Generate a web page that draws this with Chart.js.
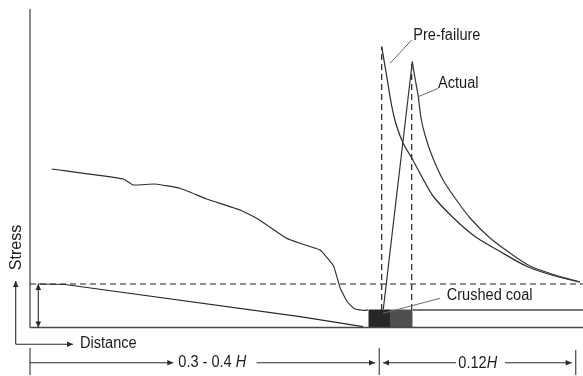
<!DOCTYPE html>
<html>
<head>
<meta charset="utf-8">
<style>
  html, body { margin: 0; padding: 0; background: #fff; }
  canvas { display: block; }
</style>
<script src="https://cdn.jsdelivr.net/npm/chart.js@4.4.1/dist/chart.umd.min.js"></script>
</head>
<body>
<canvas id="stressChart" width="583" height="376"></canvas>
<script>
// Drawing units: distance along x, stress along y, origin at the axes corner.
const xRange = [-30, 553];
const yRange = [-48.5, 327.5];

// Initial (virgin) stress level and rib / seam height.
const virginStress = 43.5;
const seamTop = 17.5;

// Stress carried over the goaf.
const goafX = [21.7, 93.3, 103.3, 125, 150, 176.7, 210, 226.7, 256.7, 270, 290, 303.5, 310, 317, 324, 333, 338];
const goafY = [158.5, 148.5, 142.5, 143.5, 139.2, 128.5, 117.5, 109.2, 89.2, 84.2, 77.5, 61.5, 40, 26, 19, 17.2, 17.5];

// Caving line from the far abutment down to the face.
const cavingX = [8, 35, 270, 333];
const cavingY = [43.5, 43, 10.8, 0.8];

// Pre-failure abutment stress.
const preFailureX = [351.7, 356.5, 361.7, 366, 373, 381.7, 392, 403, 423, 445, 470, 497, 525, 550];
const preFailureY = [280.8, 252.5, 221.5, 203.5, 184.5, 169.5, 150.5, 131.5, 110, 91, 76, 61, 51.5, 45.5];

// Actual abutment stress: rise through the crushed coal, then decay.
const actualRiseX = [353.3, 382.3];
const actualRiseY = [18.2, 265.8];
const actualX = [382.3, 385, 388.3, 391, 395, 401.7, 413, 425, 440, 460, 480, 500, 525, 550];
const actualY = [265.8, 249.5, 230.8, 209.5, 192.5, 172.5, 147.5, 129.5, 109.5, 89.5, 74.5, 61.5, 52.5, 45.5];

// Crushed coal zone: [xStart, xEnd, height]
const crushedInner = [338.3, 360, 18];
const crushedOuter = [360, 382.7, 18];

// Straight segments: [x1, y1, x2, y2]
const axisSegments = [[0, 0, 0, 318.5]];
const floorSegments = [[0, 0, 553, 0], [383, seamTop, 553, seamTop]];
const dashedSegments = [
  [0, virginStress, 553, virginStress],
  [351.7, seamTop, 351.7, 280.8],
  [381.7, seamTop, 381.7, 264.5]
];
const leaderSegments = [
  [360, 264.2, 381.7, 287.5],
  [388.3, 230.8, 408.3, 239.2],
  [353, 14.2, 410, 29.2]
];
const dimensionTicks = [
  [0, -20.5, 0, -47.5],
  [349.3, -20.5, 349.3, -47.5],
  [545.7, -22.5, 545.7, -47.5]
];

// Arrows: [fromX, fromY, toX, toY, headAtBothEnds]
const arrows = [
  [0, -35.2, 143.3, -35.2, false],
  [226.7, -35.2, 345, -35.2, false],
  [426, -35.2, 353, -35.2, false],
  [475, -35.2, 541.7, -35.2, false],
  [-14.3, -16.8, -14.3, 46.5, false],
  [-14.3, -16.8, 43, -16.8, false],
  [8.3, 0, 8.3, virginStress, true]
];

// Text labels: [text, x, y, italic suffix]
const labels = [
  ['Pre-failure', 383.3, 292, ''],
  ['Actual', 408, 243.7, ''],
  ['Crushed coal', 416.7, 31.5, ''],
  ['Distance', 50, -16.5, ''],
  ['0.3 - 0.4 ', 148.3, -35.2, 'H'],
  ['0.12', 428.3, -36, 'H']
];
const axisTitle = ['Stress', -13, 80];

const toPoints = (xs, ys) => xs.map((v, i) => ({ x: v, y: ys[i] }));

const lineSet = (pts, color, width, extra) => Object.assign({
  data: pts,
  showLine: true,
  pointRadius: 0,
  borderColor: color,
  borderWidth: width,
  fill: false,
  clip: false,
  tension: 0
}, extra || {});

const segSets = (segs, color, width, extra) =>
  segs.map(s => lineSet([{ x: s[0], y: s[1] }, { x: s[2], y: s[3] }], color, width, extra));

const blockSet = (b, color) => ({
  data: [{ x: b[0], y: b[2] }, { x: b[1], y: b[2] }],
  showLine: true,
  pointRadius: 0,
  borderWidth: 0,
  borderColor: color,
  backgroundColor: color,
  fill: { value: 0 },
  clip: false
});

const arrowColor = '#2a2a2a';

const annotationPlugin = {
  id: 'annotations',
  afterDatasetsDraw(chart) {
    const { ctx } = chart;
    const sx = chart.scales.x, sy = chart.scales.y;
    const px = v => sx.getPixelForValue(v);
    const py = v => sy.getPixelForValue(v);

    ctx.save();
    ctx.strokeStyle = arrowColor;
    ctx.fillStyle = arrowColor;
    ctx.lineWidth = 1.1;

    const head = (x1, y1, x2, y2) => {
      const ang = Math.atan2(y2 - y1, x2 - x1);
      const len = 6, half = 2.8;
      ctx.beginPath();
      ctx.moveTo(x2, y2);
      ctx.lineTo(x2 - len * Math.cos(ang) + half * Math.sin(ang), y2 - len * Math.sin(ang) - half * Math.cos(ang));
      ctx.lineTo(x2 - len * Math.cos(ang) - half * Math.sin(ang), y2 - len * Math.sin(ang) + half * Math.cos(ang));
      ctx.closePath();
      ctx.fill();
    };

    arrows.forEach(a => {
      const x1 = px(a[0]), y1 = py(a[1]), x2 = px(a[2]), y2 = py(a[3]);
      ctx.beginPath();
      ctx.moveTo(x1, y1);
      ctx.lineTo(x2, y2);
      ctx.stroke();
      head(x1, y1, x2, y2);
      if (a[4]) head(x2, y2, x1, y1);
    });

    // Labels, slightly condensed like the original drawing type
    const family = '"Liberation Sans", Arial, Helvetica, sans-serif';
    const condense = 0.91;
    ctx.fillStyle = '#1a1a1a';
    ctx.textBaseline = 'middle';
    ctx.textAlign = 'left';
    labels.forEach(l => {
      ctx.save();
      ctx.translate(px(l[1]), py(l[2]));
      ctx.scale(condense, 1);
      ctx.font = '16px ' + family;
      ctx.fillText(l[0], 0, 0);
      if (l[3]) {
        const w = ctx.measureText(l[0]).width;
        ctx.font = 'italic 16px ' + family;
        ctx.fillText(l[3], w, 0);
      }
      ctx.restore();
    });

    ctx.save();
    ctx.translate(px(axisTitle[1]), py(axisTitle[2]));
    ctx.rotate(-Math.PI / 2);
    ctx.textAlign = 'center';
    ctx.font = '16px ' + family;
    ctx.fillText(axisTitle[0], 0, 0);
    ctx.restore();

    ctx.restore();
  }
};

const datasets = [
  // leaders and dimension ticks
  ...segSets(leaderSegments, '#6a6a6a', 1),
  ...segSets(dimensionTicks, '#555', 1.3),
  // stress curves
  lineSet(toPoints(actualRiseX, actualRiseY), '#333', 1.2),
  lineSet(toPoints(actualX, actualY), '#3a3a3a', 1.25, { tension: 0.25 }),
  lineSet(toPoints(preFailureX, preFailureY), '#2e2e2e', 1.25, { tension: 0.25 }),
  lineSet(toPoints(goafX, goafY), '#2e2e2e', 1.15, { tension: 0.12 }),
  lineSet(toPoints(cavingX, cavingY), '#2a2a2a', 1.2),
  // dashed reference lines
  ...segSets(dashedSegments, '#222', 1.2, { borderDash: [6, 4] }),
  // seam floor/roof and stress axis
  ...segSets(floorSegments, '#4a4a4a', 1.3),
  ...segSets(axisSegments, '#8a8a8a', 2),
  // crushed coal zone
  blockSet(crushedInner, '#272727'),
  blockSet(crushedOuter, '#4f4f4f')
];

new Chart(document.getElementById('stressChart'), {
  type: 'scatter',
  data: { datasets },
  options: {
    responsive: false,
    animation: false,
    events: [],
    layout: { padding: 0 },
    plugins: {
      legend: { display: false },
      tooltip: { enabled: false },
      title: { display: false }
    },
    scales: {
      x: { type: 'linear', display: false, min: xRange[0], max: xRange[1] },
      y: { type: 'linear', display: false, min: yRange[0], max: yRange[1] }
    }
  },
  plugins: [annotationPlugin]
});
</script>
</body>
</html>
